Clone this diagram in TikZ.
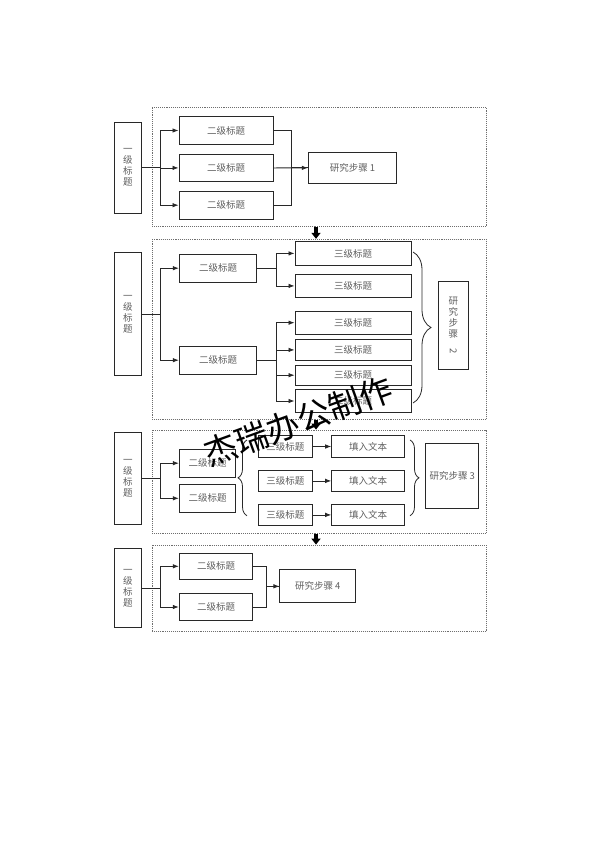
\documentclass[tikz,border=0pt]{standalone}
\usepackage{fontspec}
\setmainfont{Noto Sans CJK SC}
\usepackage{graphicx}
\usepackage{tikz}
\usetikzlibrary{positioning, arrows.meta, decorations.pathreplacing, calc}
\definecolor{LineGray}{RGB}{40,40,40}
\definecolor{TextGray}{RGB}{95,95,95}
\definecolor{FrameGray}{RGB}{110,110,110}

\begin{document}
\begin{tikzpicture}[x=1pt, y=-1pt,
            box/.style={rectangle, draw=LineGray, line width=0.95pt, inner sep=0pt,
                        text=TextGray, align=center, font=\fontsize{9.5}{11}\selectfont},
            frame/.style={rectangle, draw=FrameGray, densely dotted, line width=0.9pt,
                          minimum width=334pt, inner sep=0pt},
            arr/.style={-{Latex[length=6pt, width=4.5pt]}, line width=0.8pt, LineGray},
            link/.style={line width=0.8pt, LineGray},
            bigarr/.style={-{Triangle[length=6pt, width=9pt]}, line width=3.5pt, black},
            brc/.style={decorate, decoration={brace, amplitude=#1}, line width=0.8pt, LineGray},
            brc/.default=9pt
          ]
          \useasboundingbox (0,0) rectangle (594,841);

          % dotted frames
          \node[frame, minimum height=119.7pt] (f1) at (319,166.9) {};
          \node[frame, minimum height=180pt] (f2) at (319,329.3) {};
          \node[frame, minimum height=103.3pt] (f3) at (319,481.7) {};
          \node[frame, minimum height=86.7pt] (f4) at (319,588.4) {};
          \draw[bigarr] ([xshift=-3pt]f1.south) -- ([xshift=-3pt]f2.north);
          \draw[bigarr] ([xshift=-3pt]f2.south) -- ([xshift=-3pt]f3.north);
          \draw[bigarr] ([xshift=-3pt]f3.south) -- ([xshift=-3pt]f4.north);

          % step 1
          \node[box, minimum width=27.7pt, minimum height=91pt] (L1) at (127.9,167.5) {一\\级\\标\\题};
          \node[box, minimum width=94pt, minimum height=27.6pt] (s1a) at (226,130.5) {二级标题};
          \node[box, minimum width=94pt, minimum height=27.6pt] (s1b) at (226,167.9) {二级标题};
          \node[box, minimum width=94pt, minimum height=27.6pt] (s1c) at (226,205.2) {二级标题};
          \node[box, minimum width=88.4pt, minimum height=31pt] (r1) at (352.5,167.8) {研究步骤 1};
          \foreach \s in {s1a,s1b,s1c}
            \draw[arr] (L1.east) -- ++(18.3,0) |- (\s);
          \draw[link] (s1a.east) -- ++(17.7,0) |- (r1.west);
          \draw[link] (s1c.east) -- ++(17.7,0) |- (r1.west);
          \draw[arr] (s1b.east) -- (r1);

          % step 2
          \node[box, minimum width=27.7pt, minimum height=122.3pt] (L2) at (127.9,313.9) {一\\级\\标\\题};
          \node[box, minimum width=77.4pt, minimum height=28.3pt] (s2a) at (218,268.2) {二级标题};
          \node[box, minimum width=77.4pt, minimum height=28.3pt] (s2b) at (218,360.2) {二级标题};
          \node[box, minimum width=116pt, minimum height=23.3pt] (t21) at (353,253.4) {三级标题};
          \node[box, minimum width=116pt, minimum height=23.7pt] (t22) at (353,285.9) {三级标题};
          \node[box, minimum width=116pt, minimum height=23.3pt] (t23) at (353,322.7) {三级标题};
          \node[box, minimum width=116pt, minimum height=21.7pt] (t24) at (353,349.9) {三级标题};
          \node[box, minimum width=116pt, minimum height=20.3pt] (t25) at (353,375.2) {三级标题};
          \node[box, minimum width=116pt, minimum height=23.4pt] (t26) at (353,401) {三级标题};
          \node[box, minimum width=30pt, minimum height=88.3pt] (r2) at (453.3,325.2)
                {研\\究\\步\\骤\\\rotatebox{-90}{2}};
          \foreach \s in {s2a,s2b}
            \draw[arr] (L2.east) -- ++(18.3,0) |- (\s);
          \foreach \t in {t21,t22}
            \draw[arr] (s2a.east) -- ++(19,0) |- (\t);
          \foreach \t in {t23,t24,t25,t26}
            \draw[arr] (s2b.east) -- ++(19,0) |- (\t);
          \draw[brc=18pt] (413,252) -- (413,403);

          % step 3
          \node[box, minimum width=27.7pt, minimum height=92pt] (L3) at (127.9,478.3) {一\\级\\标\\题};
          \node[box, minimum width=56.4pt, minimum height=28.3pt] (s3a) at (207.5,463.2) {二级标题};
          \node[box, minimum width=56.4pt, minimum height=28pt] (s3b) at (207.5,498.3) {二级标题};
          \foreach \s in {s3a,s3b}
            \draw[arr] (L3.east) -- ++(18.3,0) |- (\s);
          \foreach \n/\y in {1/446.5, 2/480.9, 3/514.9} {
            \node[box, minimum width=54pt, minimum height=21.6pt] (t3\n) at (285.3,\y) {三级标题};
            \node[box, minimum width=72.6pt, minimum height=21.6pt] (w3\n) at (368,\y) {填入文本};
            \draw[arr] (t3\n) -- (w3\n);
          }
          \draw[brc] (247,515.7) -- (247,440);
          \draw[brc] (410,440) -- (410,515.7);
          \node[box, minimum width=53.3pt, minimum height=65pt] (r3) at (452.3,475.8) {研究步骤 3};

          % step 4
          \node[box, minimum width=27.7pt, minimum height=78.7pt] (L4) at (127.9,588.3) {一\\级\\标\\题};
          \node[box, minimum width=73.4pt, minimum height=26pt] (s4a) at (216,566.3) {二级标题};
          \node[box, minimum width=73.4pt, minimum height=27.4pt] (s4b) at (216,607) {二级标题};
          \node[box, minimum width=75.7pt, minimum height=33pt] (r4) at (317.8,586.3) {研究步骤 4};
          \foreach \s in {s4a,s4b}
            \draw[arr] (L4.east) -- ++(18.3,0) |- (\s);
          \draw[link] (s4a.east) -- ++(13.3,0) |- (r4.west);
          \draw[arr] (s4b.east) -- ++(13.3,0) |- (r4);

          % watermark
          \node[rotate=20, font=\fontsize{33}{33}\selectfont] (wm) at (298,421) {杰瑞办公制作};
        \end{tikzpicture}
\end{document}
